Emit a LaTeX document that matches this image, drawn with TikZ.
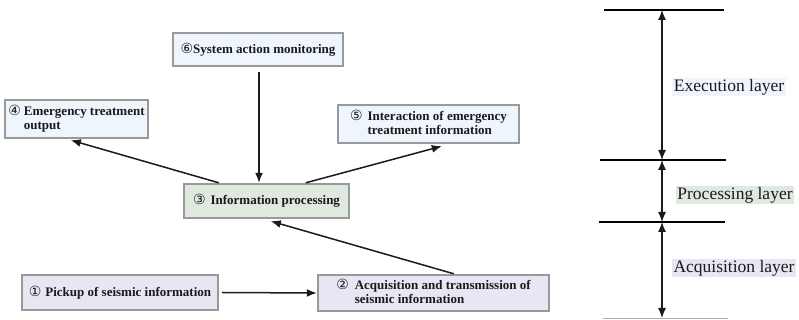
\documentclass[tikz,border=0pt]{standalone}
\usepackage{fontspec}
\setmainfont{Liberation Serif}
\newfontfamily\circfont{DejaVu Sans}
\usetikzlibrary{arrows.meta,calc}
\definecolor{bluefill}{HTML}{EEF5FC}
\definecolor{greenfill}{HTML}{E0E9E0}
\definecolor{lavfill}{HTML}{E8E6F3}
\definecolor{boxborder}{HTML}{999999}
\definecolor{inkc}{HTML}{1A1A1A}
\newcommand{\cnum}[1]{{\circfont\mdseries\fontsize{14}{14}\selectfont #1}}
\begin{document}
\begin{tikzpicture}[x=1pt,y=1pt,
  box/.style={draw=boxborder,line width=2.4pt,inner sep=0pt,
    font=\fontsize{13}{14}\selectfont\bfseries,text=inkc},
  arr/.style={draw=inkc,line width=1.5pt,-{Latex[length=10pt,width=8pt]}},
  darr/.style={draw=inkc,line width=1.2pt,{Latex[length=10pt,width=8pt]}-{Latex[length=10pt,width=8pt]}},
  layerline/.style={draw=black,line width=2.4pt},
  layerlbl/.style={inner sep=1.5pt,font=\fontsize{17.5}{20}\selectfont,text=inkc}]
\useasboundingbox (0,0) rectangle (799,320);
% boxes
\node[box,fill=bluefill,minimum width=170,minimum height=33] (b6) at (258,270.5)
  {\cnum{⑥}System action monitoring};
\node[box,fill=bluefill,minimum width=143,minimum height=38] (b4) at (76.5,201)
  {\begin{tabular}{@{}l@{\hspace{3pt}}l@{}}\cnum{④} & Emergency treatment\\ & output\end{tabular}};
\node[box,fill=bluefill,minimum width=181,minimum height=38] (b5) at (428.5,196)
  {\begin{tabular}{@{}l@{\hspace{5pt}}l@{}}\cnum{⑤} & Interaction of emergency\\ & treatment information\end{tabular}};
\node[box,fill=greenfill,minimum width=165,minimum height=34] (b3) at (266.5,119)
  {\cnum{③}\hspace{5pt}Information processing};
\node[box,fill=lavfill,minimum width=196,minimum height=35] (b1) at (120,27.5)
  {\cnum{①}\hspace{4pt}Pickup of seismic information};
\node[box,fill=lavfill,minimum width=231,minimum height=36] (b2) at (433.5,27)
  {\begin{tabular}{@{}l@{\hspace{6pt}}l@{}}\cnum{②} & Acquisition and transmission of\\ & seismic information\end{tabular}};
% connectors
\draw[arr] ([yshift=-5pt]b6.south -| 259,0) -- (b3.north -| 259,0);
\draw[arr] ([xshift=36pt]b3.north west) -- ([xshift=67pt,yshift=-1pt]b4.south west);
\draw[arr] ([xshift=123pt]b3.north west) -- ([xshift=105pt,yshift=-2pt]b5.south west);
\draw[arr] ([xshift=137pt]b2.north west) -- ([xshift=88pt,yshift=-2pt]b3.south west);
\draw[arr] ([xshift=3pt]b1.east) -- (b2.west);
% layers
\coordinate (l1) at (662,310);
\coordinate (l2) at (662,160);
\coordinate (l3) at (662,98);
\coordinate (l4) at (662,2);
\draw[layerline] (604,310) -- (724,310);
\draw[layerline] (600,160) -- (726,160);
\draw[layerline] (599,98) -- (725,98);
\draw[draw=boxborder!80,line width=1pt] (603,1.5) -- (728,1.5);
\draw[darr] (l1) -- (l2);
\draw[darr] (l2) -- (l3);
\draw[darr] (l3) -- (l4);
\node[layerlbl,fill=bluefill] (t1) at (729,233) {Execution layer};
\node[layerlbl,fill=greenfill] (t2) at (735,125) {Processing layer};
\node[layerlbl,fill=lavfill] (t3) at (734,52) {Acquisition layer};
\end{tikzpicture}
\end{document}
